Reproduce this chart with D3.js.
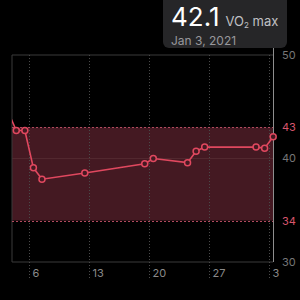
<!DOCTYPE html>
<html>
<head>
<meta charset="utf-8">
<script src="https://cdn.jsdelivr.net/npm/d3@7"></script>
<style>
  body { margin: 0; background: #000; }
  svg { display: block; font-family: Inter, "Noto Sans", sans-serif; }
</style>
</head>
<body>
<div id="chart"></div>
<script>
// data (one reading per day, at noon)
var dates = ["2020-12-03T12:00", "2020-12-04T12:00", "2020-12-05T12:00", "2020-12-06T12:00",
             "2020-12-07T12:00", "2020-12-12T12:00", "2020-12-19T12:00", "2020-12-20T12:00",
             "2020-12-24T12:00", "2020-12-25T12:00", "2020-12-26T12:00", "2021-01-01T12:00",
             "2021-01-02T12:00", "2021-01-03T12:00"];
var vo2 = [44.6, 42.7, 42.7, 39.1, 38.0, 38.6, 39.5, 40.0, 39.6, 40.7, 41.1, 41.1, 41.0, 42.1];

var xTicks = ["2020-12-06", "2020-12-13", "2020-12-20", "2020-12-27", "2021-01-03"];
var xTickLabels = ["6", "13", "20", "27", "3"];
var yTicks = [30, 40, 50];
var rangeLow = 34, rangeHigh = 43;

var selectedValue = "42.1",
    selectedUnit = "VO",
    selectedDate = "Jan 3, 2021";

var parse = d3.isoParse;
var data = dates.map(function(d, i) { return {date: parse(d), v: vo2[i]}; });

var width = 300, height = 300;
var plot = {left: 12, right: 273, top: 55, bottom: 262};

var x = d3.scaleTime()
    .domain([parse("2020-12-04T00:00"), parse("2021-01-03T11:30")])
    .range([plot.left, plot.right]);

var y = d3.scaleLinear()
    .domain([30, 50])
    .range([plot.bottom, plot.top]);

var svg = d3.select("#chart").append("svg")
    .attr("width", width)
    .attr("height", height);

svg.append("defs").append("clipPath")
    .attr("id", "clip")
    .append("rect")
    .attr("x", plot.left)
    .attr("y", plot.top)
    .attr("width", plot.right - plot.left + 4)
    .attr("height", plot.bottom - plot.top);

// range band
svg.append("rect")
    .attr("x", plot.left)
    .attr("width", plot.right - plot.left)
    .attr("y", y(rangeHigh))
    .attr("height", y(rangeLow) - y(rangeHigh))
    .attr("fill", "#441922");

// horizontal grid
svg.selectAll(".hgrid")
    .data(yTicks)
    .enter().append("line")
    .attr("x1", plot.left)
    .attr("x2", plot.right)
    .attr("y1", function(d) { return y(d); })
    .attr("y2", function(d) { return y(d); })
    .attr("stroke", function(d) { return d == 40 ? "#52282f" : "#3a3a3a"; })
    .attr("stroke-width", 1);

// left frame line
svg.append("line")
    .attr("x1", plot.left).attr("x2", plot.left)
    .attr("y1", plot.top).attr("y2", plot.bottom)
    .attr("stroke", "#3a3a3a");

// vertical dotted grid + x labels
var xg = svg.append("g");
xTicks.forEach(function(t, i) {
    var px = Math.round(x(parse(t))) + 0.5;
    xg.append("line")
        .attr("x1", px).attr("x2", px)
        .attr("y1", plot.top).attr("y2", 279)
        .attr("stroke", "#4a4a4a")
        .attr("stroke-dasharray", "1,2");
    xg.append("text")
        .attr("x", px + 3)
        .attr("y", 277)
        .attr("fill", "#8a8a8a")
        .attr("font-size", 11)
        .text(xTickLabels[i]);
});

// dashed range edges
svg.selectAll(".edge")
    .data([rangeLow, rangeHigh])
    .enter().append("line")
    .attr("x1", plot.left)
    .attr("x2", plot.right)
    .attr("y1", function(d) { return Math.round(y(d)) + 0.5; })
    .attr("y2", function(d) { return Math.round(y(d)) + 0.5; })
    .attr("stroke", "#b04a5e")
    .attr("stroke-dasharray", "2,2");

// selection cursor line
svg.append("line")
    .attr("x1", plot.right + 0.5).attr("x2", plot.right + 0.5)
    .attr("y1", 48).attr("y2", plot.bottom)
    .attr("stroke", "#8e8e8e");

// right y labels
var yLabels = [50, rangeHigh, 40, rangeLow, 30];
svg.selectAll(".ylab")
    .data(yLabels)
    .enter().append("text")
    .attr("x", 282)
    .attr("y", function(d) { return y(d); })
    .attr("dy", "0.36em")
    .attr("font-size", 11)
    .attr("fill", function(d) { return (d == rangeLow || d == rangeHigh) ? "#d9566d" : "#777"; })
    .text(function(d) { return d; });

// series
var line = d3.line()
    .x(function(d) { return x(d.date); })
    .y(function(d) { return y(d.v); });

var g = svg.append("g").attr("clip-path", "url(#clip)");

g.append("path")
    .datum(data)
    .attr("fill", "none")
    .attr("stroke", "#e0485f")
    .attr("stroke-width", 1.6)
    .attr("d", line);

g.selectAll("circle")
    .data(data)
    .enter().append("circle")
    .attr("cx", function(d) { return x(d.date); })
    .attr("cy", function(d) { return y(d.v); })
    .attr("r", 3)
    .attr("fill", "#441922")
    .attr("stroke", "#e0485f")
    .attr("stroke-width", 1.5);

// tooltip box
var tip = svg.append("g");
tip.append("rect")
    .attr("x", 163).attr("y", -8)
    .attr("width", 124).attr("height", 56)
    .attr("rx", 6)
    .attr("fill", "#262628");

var t1 = tip.append("text")
    .attr("x", 171).attr("y", 26);
t1.append("tspan")
    .attr("font-size", 26)
    .attr("font-weight", 400)
    .attr("fill", "#fff")
    .text(selectedValue);
t1.append("tspan")
    .attr("dx", 6)
    .attr("font-size", 13)
    .attr("fill", "#c0c0c4")
    .text(selectedUnit);
t1.append("tspan")
    .attr("font-size", 8)
    .attr("dy", 2)
    .attr("fill", "#c0c0c4")
    .text("2");
t1.append("tspan")
    .attr("font-size", 13)
    .attr("dy", -2)
    .attr("fill", "#c0c0c4")
    .text(" max");

tip.append("text")
    .attr("x", 171).attr("y", 45)
    .attr("font-size", 12)
    .attr("fill", "#98989c")
    .text(selectedDate);
</script>
</body>
</html>
